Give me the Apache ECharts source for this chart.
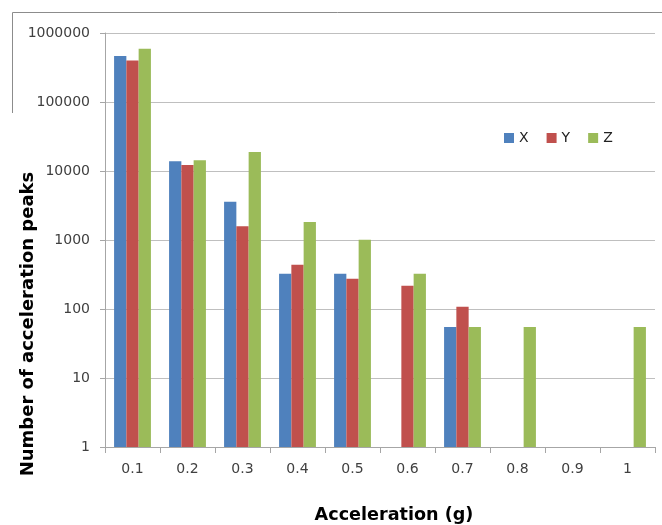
<!DOCTYPE html>
<html>
<head>
<meta charset="utf-8">
<script src="https://cdn.jsdelivr.net/npm/echarts@6/dist/echarts.min.js"></script>
<style>
html,body{margin:0;padding:0;background:#fff;}
#chart{width:662px;height:525px;}
</style>
</head>
<body>
<div id="chart"></div>
<script>
var categories = ['0.1','0.2','0.3','0.4','0.5','0.6','0.7','0.8','0.9','1'];
var seriesNames = ['X','Y','Z'];
var xValues = [464000, 13800, 3590, 325, 325, null, 55, null, null, null];
var yValues = [398000, 12200, 1580, 438, 275, 218, 108, null, null, null];
var zValues = [590000, 14300, 18800, 1820, 1010, 325, 55, 55, null, 55];
var yTickLabels = ['1','10','100','1000','10000','100000','1000000'];
var colors = ['#4F81BD','#C0504D','#9BBB59'];

var chart = echarts.init(document.getElementById('chart'), null, {renderer:'canvas'});
var tickFont = {fontFamily:'DejaVu Sans', fontSize:14, color:'#404040'};
function mkSeries(name, data, color){
  return {
    name:name, type:'bar', data:data.map(function(v){return v==null?'-':v;}),
    barGap:'0%', barCategoryGap:'33%',
    itemStyle:{color:color},
    emphasis:{disabled:true}
  };
}
chart.setOption({
  animation:false,
  color:colors,
  grid:{left:105, right:7, top:33, bottom:78, containLabel:false},
  legend:{
    data:seriesNames, left:499, top:126, icon:'rect', itemWidth:10, itemHeight:10,
    itemGap:18, textStyle:{fontFamily:'DejaVu Sans', fontSize:14, color:'#222'}
  },
  xAxis:{
    type:'category', data:categories, boundaryGap:true,
    axisLine:{lineStyle:{color:'#A6A6A6', width:1}},
    axisTick:{show:true, alignWithLabel:false, length:6, lineStyle:{color:'#A6A6A6'}},
    axisLabel:Object.assign({margin:15, interval:0}, tickFont),
    splitLine:{show:false}
  },
  yAxis:{
    type:'log', logBase:10, min:1, max:1000000,
    axisLine:{show:true, lineStyle:{color:'#A6A6A6', width:1}},
    axisTick:{show:true, length:5, lineStyle:{color:'#A6A6A6'}},
    minorTick:{show:false},
    axisLabel:Object.assign({margin:15, formatter:function(v){
      var i = Math.round(Math.log10(v)); return yTickLabels[i] || '';
    }}, tickFont),
    splitLine:{show:true, lineStyle:{color:'#BFBFBF', width:1}}
  },
  graphic:[
    {type:'polyline', shape:{points:[[12.5,113],[12.5,12.5],[680,12.5]]},
     style:{stroke:'#8C8C8C', lineWidth:1, fill:null}, silent:true},
    {type:'text', x:394, y:515, style:{text:'Acceleration (g)', fontFamily:'DejaVu Sans',
      fontWeight:'bold', fontSize:17.6, fill:'#000', textAlign:'center', textVerticalAlign:'middle'}},
    {type:'text', x:28, y:324, rotation:Math.PI/2, style:{text:'Number of acceleration peaks',
      fontFamily:'DejaVu Sans', fontWeight:'bold', fontSize:18, fill:'#000',
      textAlign:'center', textVerticalAlign:'middle'}}
  ],
  series:[
    mkSeries('X', xValues, colors[0]),
    mkSeries('Y', yValues, colors[1]),
    mkSeries('Z', zValues, colors[2])
  ]
});
</script>
</body>
</html>
